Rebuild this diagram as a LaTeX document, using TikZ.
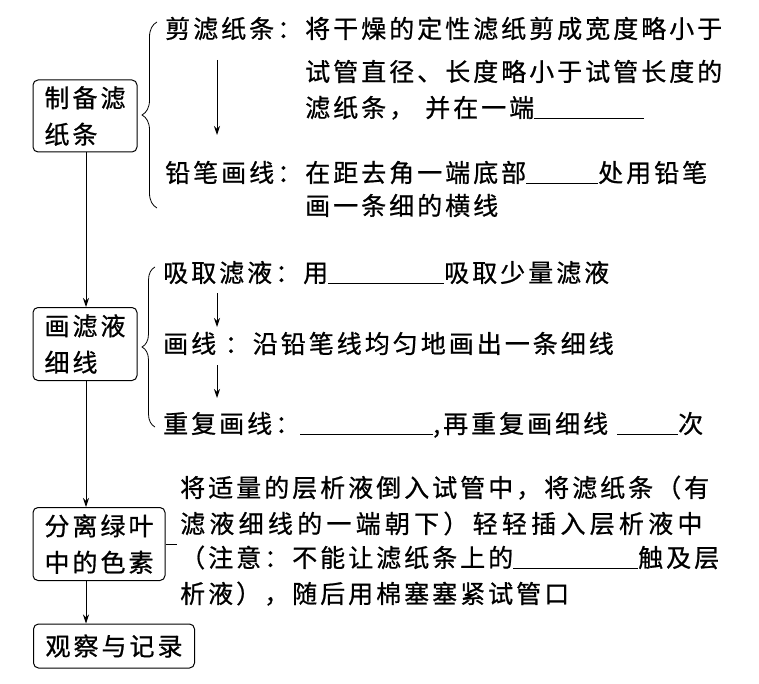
\documentclass[tikz,border=0pt]{standalone}
\usepackage{fontspec}
\setmainfont{Noto Sans CJK SC}[LetterSpace=12, FakeBold=0.8]
\usetikzlibrary{arrows.meta, decorations.pathreplacing}
\newcommand{\blank}[1]{\underline{\hspace{#1pt}}}

\begin{document}
\begin{tikzpicture}[x=1pt, y=-1pt,
  box/.style={draw, rounded corners=5pt, line width=1pt, align=left, inner sep=0pt, font=\fontsize{25}{36.5}\selectfont},
  txt/.style={anchor=base west, inner sep=0pt, font=\fontsize{25}{30}\selectfont},
  flow/.style={line width=0.9pt, -{Stealth[length=9pt, width=6pt]}},
  brc/.style={line width=0.8pt, decorate, decoration={brace, amplitude=#1}}]
  \useasboundingbox (0,0) rectangle (759,684);
  % left column
  \node[box, minimum width=104, minimum height=72] (b1) at (85,116) {制备滤\\纸条};
  \node[box, minimum width=104, minimum height=73] (b2) at (85,344) {画滤液\\细线};
  \node[box, minimum width=132, minimum height=73] (b3) at (99,544) {分离绿叶\\中的色素};
  \node[box, minimum width=161, minimum height=44] (b4) at (114,646) {观察与记录};
  \coordinate (ax) at (86,0);
  \draw[flow] (b1.south -| ax) -- (b2.north -| ax);
  \draw[flow] (b2.south -| ax) -- (b3.north -| ax);
  \draw[flow] (b3.south -| ax) -- (b4.north -| ax);
  % braces
  \draw[brc=15pt] (157,208) -- (157,22);
  \draw[brc=13pt] (155,427) -- (155,267);
  % 制备滤纸条
  \node[txt] (l1) at (165,38) {剪滤纸条：将干燥的定性滤纸剪成宽度略小于};
  \node[txt] (l2) at (305,81) {试管直径、长度略小于试管长度的};
  \node[txt] (l3) at (305,117) {滤纸条，\hspace{11pt}并在一端\blank{110}};
  \node[txt] (l4) at (165,182) {铅笔画线：在距去角一端底部\blank{72}处用铅笔};
  \node[txt] (l5) at (305,215) {画一条细的横线};
  \coordinate (a1s) at (217,60);
  \coordinate (a1e) at (217,135);
  \draw[flow] (a1s) -- (a1e);
  % 画滤液细线
  \node[txt] (l6) at (163,282) {吸取滤液：用\blank{116}吸取少量滤液};
  \node[txt] (l7) at (163,353) {画线 ：沿铅笔线均匀地画出一条细线};
  \node[txt] (l8) at (163,433) {重复画线：\blank{133},再重复画细线\hspace{9pt}\blank{61}次};
  \coordinate (a2s) at (217,293);
  \coordinate (a2e) at (217,327);
  \coordinate (a3s) at (217,365);
  \coordinate (a3e) at (217,398);
  \draw[flow] (a2s) -- (a2e);
  \draw[flow] (a3s) -- (a3e);
  % 分离绿叶中的色素
  \coordinate (stub) at (177,544);
  \draw[line width=0.8pt] (b3.east) -- (stub);
  \node[txt] (p1) at (180,497) {将适量的层析液倒入试管中，将滤纸条（有};
  \node[txt] (p2) at (180,533) {\addfontfeature{LetterSpace=17}滤液细线的一端朝下）轻轻插入层析液中};
  \node[txt] (p3) at (180,567) {（注意：不能让滤纸条上的\blank{125}触及层};
  \node[txt] (p4) at (180,603) {析液），随后用棉塞塞紧试管口};
\end{tikzpicture}
\end{document}
